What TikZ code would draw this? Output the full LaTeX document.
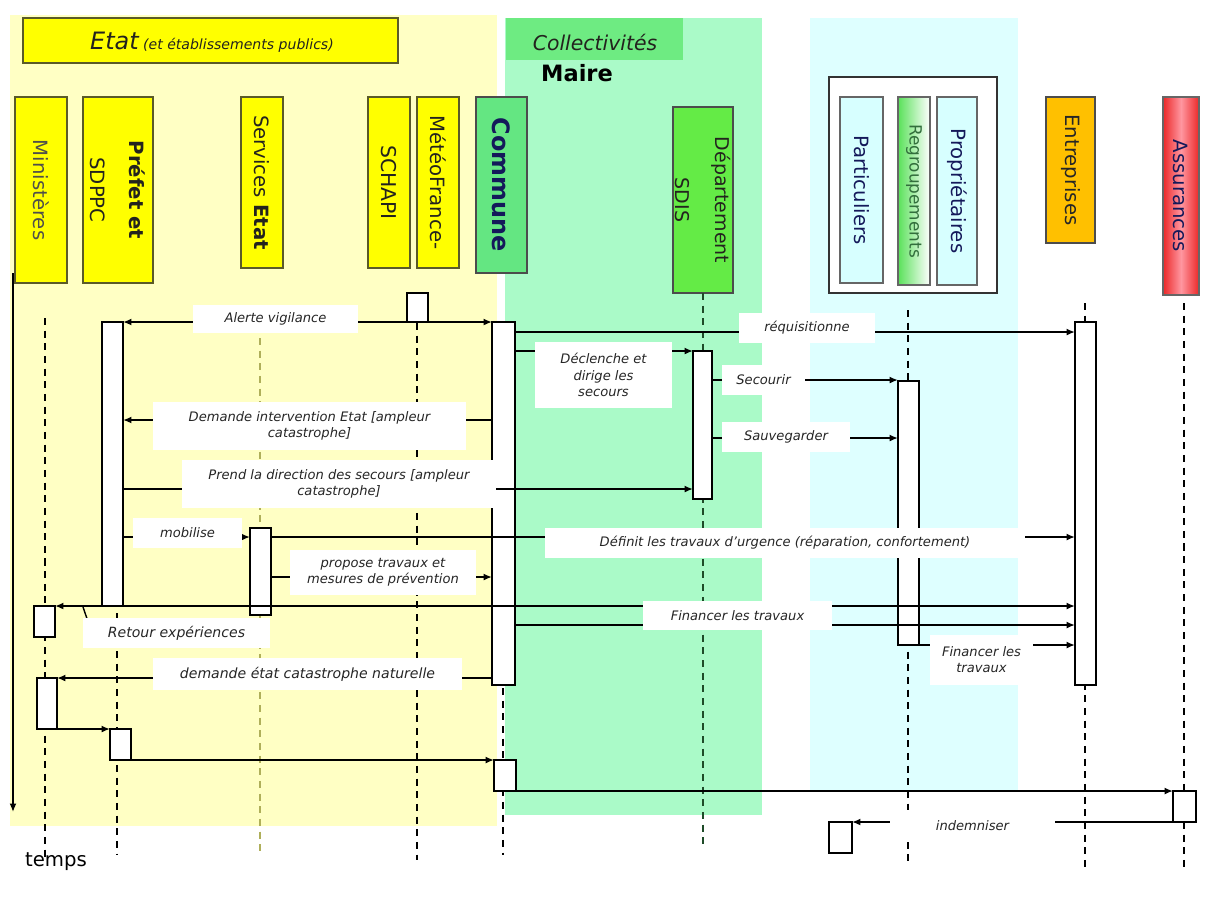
\documentclass[tikz,border=0pt]{standalone}
\usepackage{fontspec}
\setmainfont{DejaVu Sans}
\usetikzlibrary{arrows.meta,fit}
\definecolor{bgyel}{RGB}{255,255,196}
\definecolor{bggrn}{RGB}{170,250,200}
\definecolor{bgcyn}{RGB}{222,255,255}
\definecolor{hyel}{RGB}{255,255,0}
\definecolor{hbord}{RGB}{90,90,40}
\definecolor{comg}{RGB}{100,230,130}
\definecolor{sdisg}{RGB}{100,235,70}
\definecolor{navy}{RGB}{20,25,90}
\definecolor{partc}{RGB}{215,255,255}
\definecolor{entc}{RGB}{255,192,0}
\definecolor{asred}{RGB}{235,40,40}
\definecolor{aspink}{RGB}{255,150,160}
\definecolor{regg}{RGB}{90,225,90}
\definecolor{regt}{RGB}{50,110,60}
\definecolor{lifeol}{RGB}{175,175,90}
\definecolor{collg}{RGB}{110,235,130}
\definecolor{sdisline}{RGB}{30,75,40}
\definecolor{htext}{RGB}{35,35,30}
\begin{document}
\begin{tikzpicture}[x=0.025cm,y=-0.025cm,
  hdr/.style={draw=hbord, line width=1pt, inner sep=0pt, outer sep=0pt},
  act/.style={draw=black, fill=white, line width=1.3pt, inner sep=0pt, outer sep=0pt},
  msg/.style={line width=1.3pt, -{Latex[length=6pt,width=5pt]}},
  dmsg/.style={line width=1.3pt, {Latex[length=6pt,width=5pt]}-{Latex[length=6pt,width=5pt]}},
  seg/.style={line width=1pt},
  life/.style={line width=1.3pt, dash pattern=on 5pt off 4pt},
  lbl/.style={fill=white, inner sep=0pt, font=\fontsize{9.3}{11.5}\selectfont\itshape, align=center, text=black!85},
  htxt/.style={rotate=-90, font=\fontsize{14}{17}\selectfont, align=center, text=htext, inner sep=0pt}]
\useasboundingbox (0,0) rectangle (1214,896);
\fill[white] (0,0) rectangle (1214,896);
% background zones
\fill[bgyel] (10,15) rectangle (497,826);
\fill[bggrn] (505,18) rectangle (762,815);
\fill[bgcyn] (810,18) rectangle (1018,790);
% titles
\node[hdr, fill=hyel, fit={(23,18) (398,63)}] (etat) {};
\node[inner sep=0pt, text=htext] (etatT) at (212,42) {{\fontsize{17}{20}\selectfont\itshape Etat} {\fontsize{10}{12}\selectfont\itshape (et établissements publics)}};
\node[fill=collg, inner sep=0pt, fit={(506,18) (683,60)}] (coll) {};
\node[inner sep=0pt, font=\fontsize{14.5}{17}\selectfont\itshape, text=htext] (collT) at (595,42) {Collectivités};
\node[inner sep=0pt, font=\fontsize{16}{19}\selectfont\bfseries] (maire) at (577,73) {Maire};
% lifeline headers
\node[hdr, fill=hyel, fit={(15,97) (67,283)}] (min) {};
\node[htxt, text=htext!80] (minT) at (min.center) {Ministères};
\node[hdr, fill=hyel, fit={(83,97) (153,283)}] (pre) {};
\node[htxt, font=\fontsize{14}{28}\selectfont] (preT) at (pre.center) {\textbf{Préfet et}\\SDPPC};
\node[hdr, fill=hyel, fit={(241,97) (283,268)}] (ser) {};
\node[htxt] (serT) at (ser.center) {Services \textbf{Etat}};
\node[hdr, fill=hyel, fit={(368,97) (410,268)}] (sch) {};
\node[htxt, font=\fontsize{14.5}{17}\selectfont] (schT) at (sch.center) {SCHAPI};
\node[hdr, fill=hyel, fit={(417,97) (459,268)}] (met) {};
\node[htxt] (metT) at (met.center) {MétéoFrance-};
\node[hdr, draw=black!70, fill=comg, fit={(476,97) (527,273)}] (com) {};
\node[htxt, font=\fontsize{17}{20}\selectfont\bfseries, text=navy] (comT) at (com.center) {Commune};
\node[hdr, draw=black!70, fill=sdisg, fit={(673,107) (733,293)}] (sdis) {};
\node[htxt, font=\fontsize{13.5}{28}\selectfont] (sdisT) at (sdis.center) {Département\\SDIS};
\node[draw=black!80, fill=white, line width=1.2pt, inner sep=0pt, fit={(829,77) (997,293)}] (grp) {};
\node[hdr, draw=black!60, fill=partc, fit={(840,97) (883,283)}] (par) {};
\node[htxt, text=navy] (parT) at (par.center) {Particuliers};
\node[hdr, draw=black!60, left color=regg, right color=white, fit={(898,97) (930,285)}] (reg) {};
\node[htxt, font=\fontsize{12}{14}\selectfont, text=regt] (regT) at (reg.center) {Regroupements};
\node[hdr, draw=black!60, fill=partc, fit={(937,97) (977,285)}] (pro) {};
\node[htxt, text=navy] (proT) at (pro.center) {Propriétaires};
\node[hdr, draw=black!70, fill=entc, fit={(1046,97) (1095,243)}] (ent) {};
\node[htxt, text=black!85] (entT) at (ent.center) {Entreprises};
\node[hdr, draw=black!60, left color=asred, right color=asred, middle color=aspink, fit={(1163,97) (1199,295)}] (ass) {};
\node[htxt, text=navy] (assT) at (ass.center) {Assurances};
% time axis
\coordinate (t0) at (13,273);
\coordinate (t1) at (13,812);
\draw[line width=1.5pt, -{Latex[length=6pt,width=5pt]}] (t0) -- (t1);
\node[inner sep=0pt, font=\fontsize{14}{16}\selectfont] (temps) at (56,862) {temps};
% lifelines
\draw[life] (45,318) -- (45,858);
\draw[life] (117,322) -- (117,855);
\draw[life, draw=lifeol] (260,338) -- (260,852);
\draw[life] (417,323) -- (417,860);
\draw[life] (503,321) -- (503,855);
\draw[life, draw=sdisline] (sdis.south) -- (703,848);
\draw[life] (908,310) -- (908,866);
\draw[life] (1085,303) -- (1085,870);
\draw[life] (1184,303) -- (1184,870);
% activation boxes
\node[act, fit={(102,322) (123,606)}] (preA) {};
\node[act, fit={(34,606) (55,637)}] (minA) {};
\node[act, fit={(37,678) (57,729)}] (minB) {};
\node[act, fit={(110,729) (131,760)}] (preB) {};
\node[act, fit={(250,528) (271,615)}] (serA) {};
\node[act, fit={(407,293) (428,322)}] (metA) {};
\node[act, fit={(492,322) (515,685)}] (comA) {};
\node[act, fit={(494,760) (516,791)}] (comB) {};
\node[act, fit={(693,351) (712,499)}] (sdisA) {};
\node[act, fit={(898,381) (919,645)}] (regA) {};
\node[act, fit={(1075,322) (1096,685)}] (entA) {};
\node[act, fit={(1173,791) (1196,822)}] (assA) {};
\node[act, fill=none, fit={(829,822) (852,853)}] (indA) {};
% messages
\draw[msg] (metA.south) -- (preA.north east);
\draw[msg] (metA.south) -- (comA.north west);
\draw[msg] (comA.east |- 0,332) -- (entA.west |- 0,332);
\draw[msg] (comA.east |- 0,351) -- (sdisA.north west);
\draw[msg] (sdisA.east |- 0,380) -- (regA.west |- 0,380);
\draw[msg] (sdisA.east |- 0,438) -- (regA.west |- 0,438);
\draw[msg] (comA.west |- 0,420) -- (preA.east |- 0,420);
\draw[msg] (preA.east |- 0,489) -- (sdisA.west |- 0,489);
\draw[msg] (preA.east |- 0,537) -- (serA.west |- 0,537);
\draw[msg] (serA.east |- 0,537) -- (entA.west |- 0,537);
\draw[msg] (serA.east |- 0,577) -- (comA.west |- 0,577);
\draw[dmsg] (minA.north east) -- (entA.west |- minA.north east);
\draw[msg] (comA.east |- 0,625) -- (entA.west |- 0,625);
\draw[msg] (regA.south west) -- (entA.west |- regA.south west);
\draw[msg] (comA.west |- minB.north east) -- (minB.north east);
\draw[msg] (minB.south east) -- (preB.north west);
\draw[msg] (preB.south east) -- (comB.north west);
\draw[msg] (comB.south east) -- (assA.north west);
\draw[msg] (assA.south west) -- (indA.north east);
\coordinate (rc0) at (83,607);
\coordinate (rc1) at (93,636);
\draw[seg] (rc0) -- (rc1);
% labels
\node[lbl, minimum width=4.125cm, minimum height=0.7cm] (l1) at (275.5,319) {Alerte vigilance};
\node[lbl, minimum width=3.4cm, minimum height=0.75cm] (l2) at (807,328) {réquisitionne};
\node[lbl, minimum width=3.425cm, minimum height=1.65cm] (l3) at (603.5,375) {Déclenche et\\dirige les\\secours};
\node[lbl, minimum width=2.075cm, minimum height=0.75cm] (l4) at (763.5,380) {Secourir};
\node[lbl, minimum width=3.2cm, minimum height=0.75cm] (l5) at (786,437) {Sauvegarder};
\node[lbl, minimum width=7.825cm, minimum height=1.2cm] (l6) at (309.5,426) {Demande intervention Etat [ampleur\\catastrophe]};
\node[lbl, minimum width=7.85cm, minimum height=1.2cm] (l7) at (339,484) {Prend la direction des secours [ampleur\\catastrophe]};
\node[lbl, minimum width=2.725cm, minimum height=0.75cm] (l8) at (187.5,533) {mobilise};
\node[lbl, minimum width=12cm, minimum height=0.75cm] (l9) at (785,543) {Définit les travaux d'urgence (réparation, confortement)};
\node[lbl, minimum width=4.65cm, minimum height=1.125cm] (l10) at (383,572.5) {propose travaux et\\mesures de prévention};
\node[lbl, minimum width=4.725cm, minimum height=0.725cm] (l11) at (737.5,615.5) {Financer les travaux};
\node[lbl, minimum width=4.675cm, minimum height=0.75cm, font=\fontsize{10}{12}\selectfont\itshape] (l12) at (176.5,633) {Retour expériences};
\node[lbl, minimum width=2.575cm, minimum height=1.25cm] (l13) at (981.5,660) {Financer les\\travaux};
\node[lbl, minimum width=7.725cm, minimum height=0.8cm, font=\fontsize{10}{12}\selectfont\itshape] (l14) at (307.5,674) {demande état catastrophe naturelle};
\node[lbl, minimum width=4.125cm, minimum height=0.8cm] (l15) at (972.5,826) {indemniser};
\end{tikzpicture}
\end{document}
